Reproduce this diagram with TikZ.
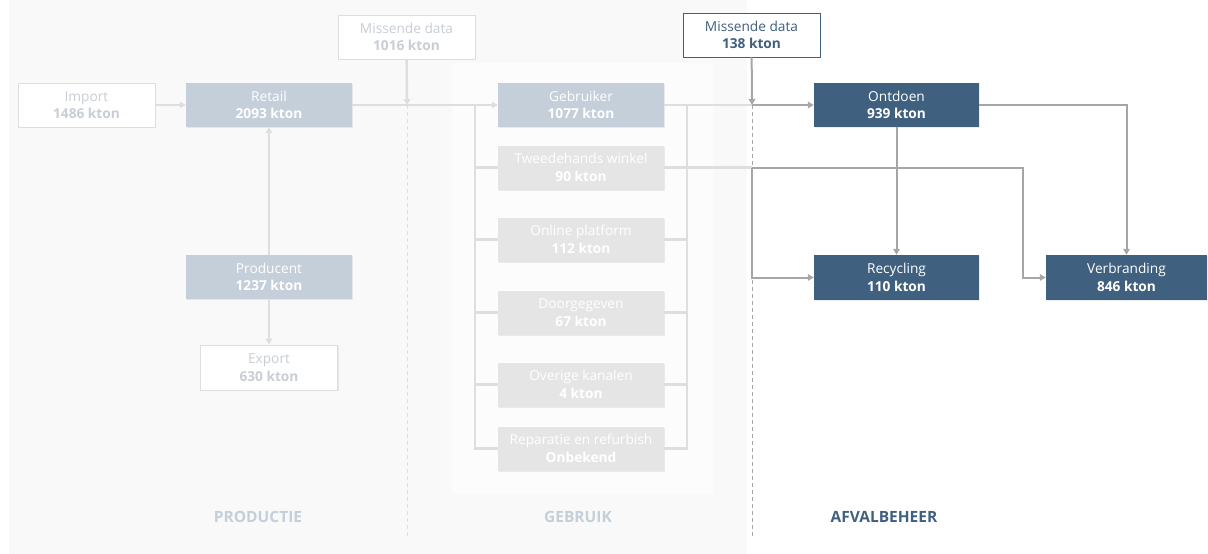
\documentclass[tikz,border=0pt]{standalone}
\usepackage{fontspec}
\setmainfont{Open Sans}
\usetikzlibrary{arrows.meta,shadows}

\definecolor{donker}{RGB}{64,96,127}
\definecolor{blauwvaag}{RGB}{196,207,218}
\definecolor{kanaalgrijs}{RGB}{229,229,229}
\definecolor{lijnvaag}{RGB}{222,222,222}
\definecolor{lijngrijs}{RGB}{166,166,166}
\definecolor{tekstvaag}{RGB}{200,206,213}
\definecolor{achtergrond}{RGB}{249,249,249}
\definecolor{paneel}{RGB}{252,252,252}

\newcommand{\blokt}[2]{#1\\\textbf{#2}}

\begin{document}
\begin{tikzpicture}[x=1pt,y=-1pt,
    blok/.style={minimum width=166pt,minimum height=44pt,inner sep=0pt,align=center,
        font=\fontsize{13.7}{17.5}\selectfont,
        drop shadow={shadow xshift=1.2pt,shadow yshift=-1.2pt,opacity=0.15}},
    leeg/.style={blok,minimum width=137pt,fill=white,draw=lijnvaag,line width=0.8pt,text=tekstvaag},
    vaag/.style={blok,fill=blauwvaag,text=white},
    kanaal/.style={blok,fill=kanaalgrijs,text=white},
    actief/.style={blok,fill=donker,text=white},
    stroomvaag/.style={draw=lijnvaag,line width=2.4pt},
    stroom/.style={draw=lijngrijs,line width=2pt},
    pijl/.style={-{Triangle[length=6pt,width=6.5pt]}},
    fase/.style={font=\fontsize{15.5}{18}\selectfont\bfseries}]

    \useasboundingbox (0,0) rectangle (1208,554);

    \def\ylijn{105}%Hoofdlijn
    \def\xlinks{475}%Beugel links
    \def\xrechts{687}%Beugel rechts

    %Achtergrond
    \fill[achtergrond] (9,0) rectangle (747,554);
    \fill[paneel] (452,63) rectangle (713,494);

    %Productie
    \node[leeg] (import) at (86.5,\ylijn) {\blokt{Import}{1486 kton}};
    \node[vaag] (retail) at (269,\ylijn) {\blokt{Retail}{2093 kton}};
    \node[leeg] (misA) at (406.5,37) {\blokt{Missende data}{1016 kton}};
    \node[vaag] (producent) at (269,277) {\blokt{Producent}{1237 kton}};
    \node[leeg,minimum height=45pt] (export) at (269,367.5) {\blokt{Export}{630 kton}};

    %Gebruik
    \node[vaag] (gebruiker) at (581,\ylijn) {\blokt{Gebruiker}{1077 kton}};
    \foreach \naam/\tekst/\waarde/\y in {tweedehands/Tweedehands winkel/90 kton/167.5,
        online/Online platform/112 kton/239.5,doorgegeven/Doorgegeven/67 kton/312.5,
        overige/Overige kanalen/4 kton/384.5,reparatie/Reparatie en refurbish/Onbekend/448.5}
        \node[kanaal] (\naam) at (581,\y) {\blokt{\tekst}{\waarde}};

    %Afvalbeheer
    \node[leeg,draw=donker,text=donker] (misB) at (751.5,35) {\blokt{Missende data}{138 kton}};
    \node[actief,minimum width=165pt] (ontdoen) at (896.5,\ylijn) {\blokt{Ontdoen}{939 kton}};
    \node[actief,minimum width=165pt,minimum height=45pt] (recycling) at (896.5,277.5) {\blokt{Recycling}{110 kton}};
    \node[actief,minimum width=161pt,minimum height=45pt] (verbranding) at (1126.5,277.5) {\blokt{Verbranding}{846 kton}};

    \coordinate (knoopA) at (407,\ylijn);
    \coordinate (knoopB) at (752,\ylijn);
    \coordinate (splitsing) at (752,167.5);
    \coordinate (bocht) at (1023,167.5);

    %Scheidingslijnen
    \draw[lijnvaag,line width=0.8pt,dash pattern=on 4pt off 3pt] (knoopA) -- (407,537);
    \draw[lijngrijs,line width=0.8pt,dash pattern=on 4pt off 3pt] (knoopB) -- (752,537);

    %Stromen productie
    \draw[stroomvaag,pijl] (import) -- (retail);
    \draw[stroomvaag,pijl] (producent) -- (retail);
    \draw[stroomvaag,pijl] (producent) -- (export);
    \draw[stroomvaag,pijl] (retail) -- (gebruiker);
    \draw[stroomvaag,pijl] (misA) -- (knoopA);

    %Beugels gebruik
    \draw[stroomvaag] (\xlinks,\ylijn) |- (reparatie.west);
    \draw[stroomvaag] (\xrechts,\ylijn) |- (reparatie.east);
    \foreach \naam in {tweedehands,online,doorgegeven,overige}{
        \draw[stroomvaag] (\xlinks,0 |- \naam.west) -- (\naam.west);
        \draw[stroomvaag] (\naam.east) -- (\xrechts,0 |- \naam.east);
    }
    \draw[stroomvaag] (gebruiker) -- (knoopB);
    \draw[stroomvaag] (tweedehands) -- (splitsing);

    %Stromen afvalbeheer
    \draw[stroom,pijl] (misB) -- (knoopB);
    \draw[stroom,pijl] (knoopB) -- (ontdoen);
    \draw[stroom,pijl] (ontdoen) -- (recycling);
    \draw[stroom,pijl] (ontdoen.east) -| (verbranding.north);
    \draw[stroom,pijl] (splitsing) |- (recycling.west);
    \draw[stroom,pijl] (splitsing) -- (bocht) |- (verbranding.west);

    %Fasen
    \node[fase,text=blauwvaag] (productie) at (258,517) {PRODUCTIE};
    \node[fase,text=blauwvaag] (gebruik) at (578,517) {GEBRUIK};
    \node[fase,text=donker] (afval) at (884,517) {AFVALBEHEER};

\end{tikzpicture}
\end{document}
